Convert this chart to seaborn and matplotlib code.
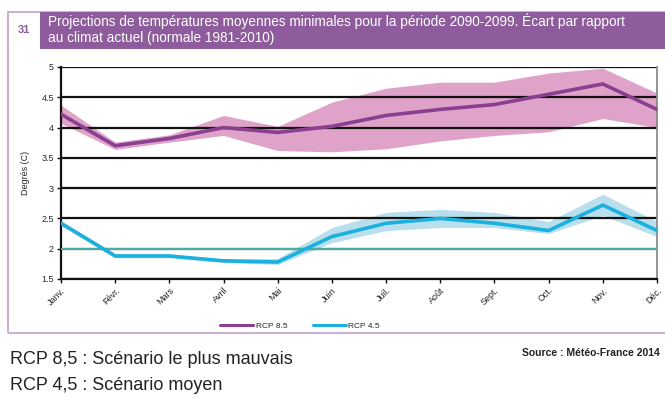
import matplotlib
matplotlib.use("Agg")
import matplotlib.pyplot as plt
import matplotlib.patches as mpatches
import seaborn as sns
import pandas as pd
import numpy as np

# data
months = ["Janv.", "Févr.", "Mars", "Avril", "Mai", "Juin",
          "Juil.", "Août", "Sept.", "Oct.", "Nov.", "Déc."]
rcp85_mean = [4.22, 3.70, 3.82, 4.00, 3.92, 4.02, 4.20, 4.30, 4.38, 4.55, 4.72, 4.30]
rcp85_low = [4.07, 3.64, 3.76, 3.87, 3.62, 3.60, 3.65, 3.78, 3.87, 3.93, 4.15, 4.00]
rcp85_high = [4.37, 3.76, 3.88, 4.20, 4.02, 4.42, 4.65, 4.75, 4.75, 4.90, 4.98, 4.57]
rcp45_mean = [2.42, 1.88, 1.88, 1.80, 1.78, 2.20, 2.42, 2.50, 2.42, 2.30, 2.72, 2.30]
rcp45_low = [2.38, 1.85, 1.85, 1.77, 1.74, 2.10, 2.30, 2.35, 2.35, 2.25, 2.55, 2.20]
rcp45_high = [2.46, 1.91, 1.91, 1.83, 1.84, 2.35, 2.60, 2.65, 2.60, 2.45, 2.90, 2.45]
reference = 2.0
yticks = [1.5, 2, 2.5, 3, 3.5, 4, 4.5, 5]

PURPLE = "#8a3f90"
PINK = "#dfa3c9"
BLUE = "#1bb0de"
LIGHTBLUE = "#b9dfec"
TEAL = "#4cc0b8"
HEADER = "#8e5c9c"

sns.set_theme(style="white")
plt.rcParams["font.family"] = ["Liberation Sans", "DejaVu Sans"]

x = np.arange(len(months))
df = pd.DataFrame({
    "x": np.concatenate([x, x]),
    "value": rcp85_mean + rcp45_mean,
    "scenario": ["RCP 8.5"] * len(x) + ["RCP 4.5"] * len(x),
})

fig = plt.figure(figsize=(6.65, 4.01), dpi=100)

# outer frame and header band
frame = mpatches.Rectangle((8 / 665, 1 - 333 / 401), 1, (333 - 12) / 401,
                           transform=fig.transFigure, facecolor="none",
                           edgecolor="#cdb0d3", lw=1.5)
fig.patches.append(frame)
band = mpatches.Rectangle((40 / 665, 1 - 49 / 401), 1, 37 / 401,
                          transform=fig.transFigure, facecolor=HEADER,
                          edgecolor="none")
fig.patches.append(band)
fig.text(18 / 665, 1 - 30 / 401, "31", color=HEADER, fontsize=8,
         fontweight="bold", va="center")
fig.text(48 / 665, 1 - 21 / 401,
         "Projections de températures moyennes minimales pour la période 2090-2099. Écart par rapport",
         color="white", fontsize=9.8, va="center")
fig.text(48 / 665, 1 - 38 / 401, "au climat actuel (normale 1981-2010)",
         color="white", fontsize=9.8, va="center")

ax = fig.add_axes([61 / 665, 1 - 279 / 401, (657 - 61) / 665, (279 - 67) / 401])

ax.fill_between(x, rcp85_low, rcp85_high, color=PINK, lw=0, zorder=1)
ax.fill_between(x, rcp45_low, rcp45_high, color=LIGHTBLUE, lw=0, zorder=1)
for yv in yticks:
    ax.axhline(yv, color="#111111", lw=1.6, zorder=2)
ax.axhline(reference, color=TEAL, lw=1.3, zorder=3)

sns.lineplot(data=df, x="x", y="value", hue="scenario",
             palette={"RCP 8.5": PURPLE, "RCP 4.5": BLUE},
             lw=2.6, ax=ax, zorder=4, legend=False)

ax.set_xlim(0, len(months) - 1)
ax.set_ylim(1.5, 5)
ax.set_yticks(yticks)
ax.set_yticklabels([f"{v:g}" for v in yticks], fontsize=6.5)
ax.set_xticks(x)
ax.set_xticklabels(months, rotation=45, ha="right", rotation_mode="anchor",
                   fontsize=6.5)
ax.set_xlabel("")
ax.set_ylabel("Degrés (C)", fontsize=6.5, labelpad=8)
ax.tick_params(axis="both", direction="out", length=3, width=1, color="#111111",
               bottom=True, left=True, pad=2)
for side in ["left", "bottom"]:
    ax.spines[side].set_color("#111111")
    ax.spines[side].set_linewidth(1.6)
ax.spines["top"].set_visible(False)
ax.spines["right"].set_color("#888888")

handles = [plt.Line2D([], [], color=PURPLE, lw=2.2),
           plt.Line2D([], [], color=BLUE, lw=2.2)]
fig.legend(handles, ["RCP 8.5", "RCP 4.5"], loc="center",
           bbox_to_anchor=(300 / 665, 1 - 326 / 401), ncol=2, frameon=False,
           fontsize=6, handlelength=4, columnspacing=3, handletextpad=0.3)

fig.text(10 / 665, 1 - 359 / 401, "RCP 8,5 : Scénario le plus mauvais",
         fontsize=13, color="#222222", va="center")
fig.text(10 / 665, 1 - 385 / 401, "RCP 4,5 : Scénario moyen",
         fontsize=13, color="#222222", va="center")
fig.text(660 / 665, 1 - 353 / 401, "Source : Météo-France 2014", ha="right",
         fontsize=7.5, fontweight="bold", color="#222222", va="center")

fig.savefig("out.png", dpi=100)
